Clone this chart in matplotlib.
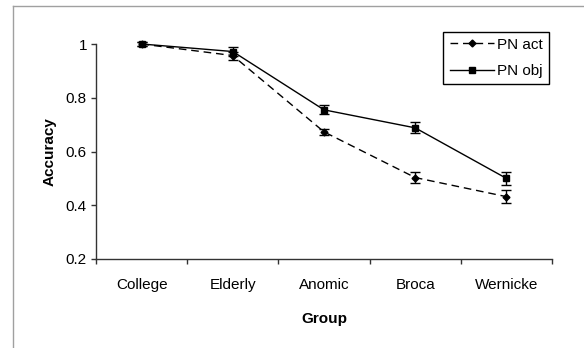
import numpy as np
import matplotlib.pyplot as plt
from matplotlib.lines import Line2D

# ============================================================
# DATA
# ============================================================

groups = ["College", "Elderly", "Anomic", "Broca", "Wernicke"]

pn_act = [1.0, 0.957, 0.673, 0.503, 0.432]
pn_act_err = [0.008, 0.015, 0.012, 0.02, 0.025]

pn_obj = [1.0, 0.972, 0.755, 0.688, 0.50]
pn_obj_err = [0.008, 0.015, 0.017, 0.02, 0.025]

# ============================================================
# FIGURE
# ============================================================

plt.rcParams["font.family"] = ["Liberation Sans", "DejaVu Sans"]

fig = plt.figure(figsize=(5.84, 3.48), dpi=100)
ax = fig.add_axes([96 / 584, 1 - 259 / 348, 456 / 584, 215 / 348])

x = np.arange(len(groups))

act_style = dict(color="black", linestyle=(0, (5.5, 3.5)), linewidth=1.0,
                 marker="D", markersize=3.5)
obj_style = dict(color="black", linestyle="-", linewidth=1.0,
                 marker="s", markersize=3.8)

ax.errorbar(
    x, pn_act, yerr=pn_act_err,
    capsize=3.6, capthick=1.0, elinewidth=1.0,
    clip_on=False, **act_style
)

ax.errorbar(
    x, pn_obj, yerr=pn_obj_err,
    capsize=3.6, capthick=1.0, elinewidth=1.0,
    clip_on=False, **obj_style
)

# ------------------------------------------------------------
# AXES
# ------------------------------------------------------------

ax.set_xlim(-0.5, len(groups) - 0.5)
ax.set_ylim(0.2, 1.0)

ax.set_yticks([0.2, 0.4, 0.6, 0.8, 1.0])
ax.set_yticklabels(["0.2", "0.4", "0.6", "0.8", "1"])

ax.set_xticks(np.arange(len(groups) + 1) - 0.5)
ax.set_xticklabels([])
ax.set_xticks(x, minor=True)
ax.set_xticklabels(groups, minor=True)

ax.tick_params(axis="both", which="major", direction="out",
               length=3.5, width=1.0, color="#333333", labelsize=11)
ax.tick_params(axis="y", pad=3)
ax.tick_params(axis="x", which="minor", length=0, pad=14, labelsize=11)

for side in ["top", "right"]:
    ax.spines[side].set_visible(False)
for side in ["left", "bottom"]:
    ax.spines[side].set_color("#333333")
    ax.spines[side].set_linewidth(1.0)

ax.set_ylabel("Accuracy", fontsize=11, fontweight="bold", labelpad=7)
ax.set_xlabel("Group", fontsize=11, fontweight="bold", labelpad=14)

# ------------------------------------------------------------
# LEGEND
# ------------------------------------------------------------

handles = [Line2D([], [], **act_style), Line2D([], [], **obj_style)]

leg = ax.legend(
    handles, ["PN act", "PN obj"],
    loc="upper right", bbox_to_anchor=(0.993, 1.058),
    frameon=True, fancybox=False, framealpha=1,
    edgecolor="black", fontsize=11,
    handlelength=2.9, handletextpad=0.2,
    labelspacing=0.8, borderpad=0.4, borderaxespad=0
)
leg.get_frame().set_linewidth(1.0)

# ------------------------------------------------------------
# CHART AREA BORDER
# ------------------------------------------------------------

fig.add_artist(Line2D([13 / 584, 13 / 584], [0, 1 - 6 / 348],
                      color="#a0a0a0", linewidth=1.0))
fig.add_artist(Line2D([13 / 584, 1], [1 - 6 / 348, 1 - 6 / 348],
                      color="#a0a0a0", linewidth=1.0))

fig.savefig("out.png", dpi=100)
